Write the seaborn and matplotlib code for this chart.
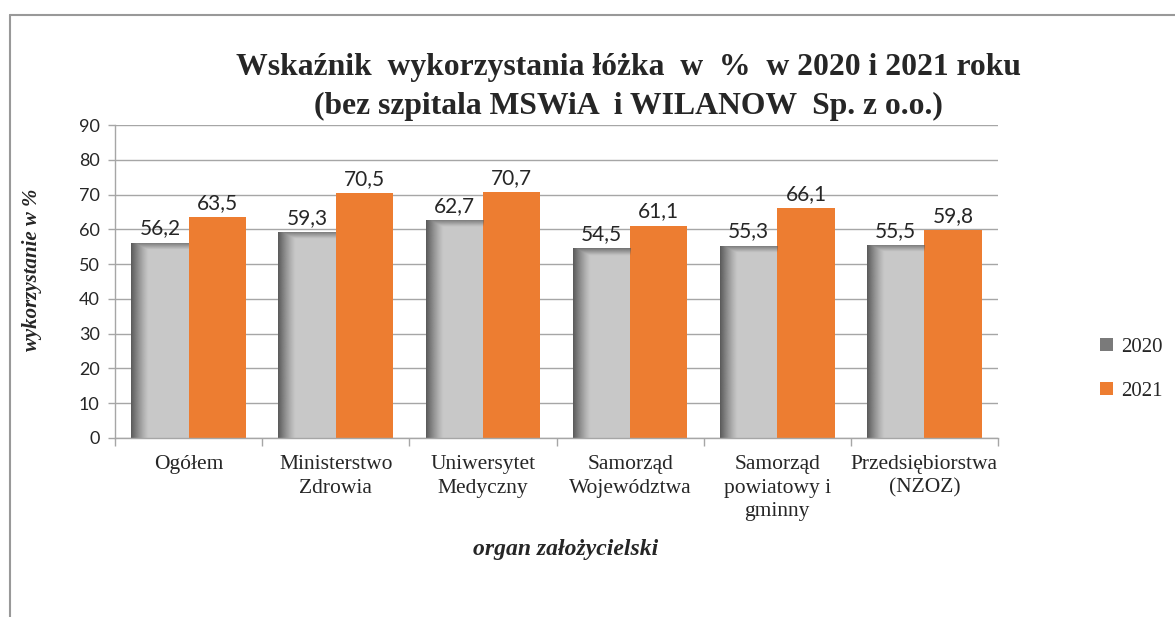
import numpy as np
import pandas as pd
import matplotlib
matplotlib.use("Agg")
import matplotlib.pyplot as plt
from matplotlib.lines import Line2D
from matplotlib.patches import Patch
import seaborn as sns

categories = ["Ogółem", "Ministerstwo\nZdrowia", "Uniwersytet\nMedyczny",
              "Samorząd\nWojewództwa", "Samorząd\npowiatowy i\ngminny",
              "Przedsiębiorstwa\n(NZOZ)"]
years = ["2020", "2021"]
v2020 = [56.2, 59.3, 62.7, 54.5, 55.3, 55.5]
v2021 = [63.5, 70.5, 70.7, 61.1, 66.1, 59.8]
yticks = [0, 10, 20, 30, 40, 50, 60, 70, 80, 90]

df = pd.DataFrame({
    "cat": categories * 2,
    "year": [years[0]] * len(categories) + [years[1]] * len(categories),
    "val": v2020 + v2021,
})

sns.set_style("white")
plt.rcParams["font.family"] = ["Liberation Serif", "DejaVu Sans"]

W, H = 1175, 617
fig = plt.figure(figsize=(W / 100, H / 100), dpi=100)
ax = fig.add_axes([115 / W, 1 - 438 / H, (998 - 115) / W, (438 - 125) / H])

light = "#C8C8C8"
orange = "#ED7D31"
sns.barplot(data=df, x="cat", y="val", hue="year", hue_order=years,
            palette={"2020": light, "2021": orange}, width=0.78,
            saturation=1, legend=False, ax=ax, zorder=2,
            edgecolor="none", linewidth=0)

ax.set_ylim(0, 90)
ax.set_xlim(-0.5, len(categories) - 0.5)
ax.set_yticks(yticks)
ax.yaxis.grid(True, color="#A6A6A6", linewidth=1.0, zorder=0)
ax.set_axisbelow(True)

# gradient shading on 2020 bars
px_per_unit = (438 - 125) / 90
for p in ax.containers[0]:
    x0, w, h = p.get_x(), p.get_width(), p.get_height()
    nx, ny = 120, 200
    xs = np.linspace(0, 1, nx)
    ys = np.linspace(h, 0, ny)  # top to bottom
    ax_ = np.clip(1 - xs / 0.30, 0, 1) ** 1.2
    depth_px = (h - ys) * px_per_unit
    ay_ = np.clip(1 - depth_px / 7.0, 0, 1) * 0.75
    alpha = np.maximum(ax_[None, :], ay_[:, None])
    img = np.zeros((ny, nx, 4))
    img[..., :3] = np.array([0x5A, 0x5A, 0x5A]) / 255
    img[..., 3] = alpha
    im = ax.imshow(img, extent=[x0, x0 + w, 0, h], aspect="auto",
                   zorder=2.5, interpolation="bilinear")
    im.set_clip_path(p)

ax.set_ylim(0, 90)
ax.set_xlim(-0.5, len(categories) - 0.5)

# value labels
for cont, vals in zip(ax.containers, [v2020, v2021]):
    labels = [f"{v:.1f}".replace(".", ",") for v in vals]
    ax.bar_label(cont, labels=labels, padding=3, fontsize=15,
                 family=["Lato", "DejaVu Sans"], color="#262626")

# spines and ticks
for s in ["top", "right"]:
    ax.spines[s].set_visible(False)
for s in ["left", "bottom"]:
    ax.spines[s].set_color("#A6A6A6")
    ax.spines[s].set_linewidth(1.0)

ax.tick_params(axis="y", which="major", left=True, length=5, width=1,
               color="#A6A6A6", labelsize=13, pad=6, labelcolor="#262626")
for lab in ax.get_yticklabels():
    lab.set_family(["Lato", "DejaVu Sans"])
ax.tick_params(axis="x", which="major", bottom=False, labelsize=15.5,
               pad=9, labelcolor="#262626")
ax.set_xticks(np.arange(-0.5, len(categories), 1.0), minor=True)
ax.tick_params(axis="x", which="minor", bottom=True, length=6, width=1,
               color="#A6A6A6")
for lab in ax.get_xticklabels():
    lab.set_linespacing(1.3)
    lab.set_verticalalignment("top")

ax.set_xlabel("")
ax.set_ylabel("")
fig.text(32 / W, 1 - 270 / H, "wykorzystanie w %", rotation=90,
         ha="center", va="center", fontsize=15, fontweight="bold",
         fontstyle="italic")
fig.text(566 / W, 1 - 550 / H, "organ założycielski", ha="center",
         va="center", fontsize=17, fontweight="bold", fontstyle="italic")

fig.text(628 / W, 1 - 68 / H, "Wskaźnik  wykorzystania łóżka  w  %  w 2020 i 2021 roku",
         ha="center", va="center", fontsize=22.8, fontweight="bold")
fig.text(628 / W, 1 - 106 / H, "(bez szpitala MSWiA  i WILANOW  Sp. z o.o.)",
         ha="center", va="center", fontsize=22.8, fontweight="bold")

# legend
handles = [Patch(facecolor="#7A7A7A", edgecolor="none"),
           Patch(facecolor=orange, edgecolor="none")]
fig.legend(handles, years, loc="center left",
           bbox_to_anchor=(1092 / W, 1 - 369 / H), frameon=False,
           fontsize=15, handlelength=0.6, handleheight=0.6,
           handletextpad=0.4, labelspacing=1.2, borderaxespad=0)

# outer chart border (left and top visible)
fig.add_artist(Line2D([10 / W, 10 / W], [0, 1 - 15 / H],
                      transform=fig.transFigure, color="#999999", lw=1.5))
fig.add_artist(Line2D([10 / W, 1], [1 - 15 / H, 1 - 15 / H],
                      transform=fig.transFigure, color="#999999", lw=1.5))

fig.savefig("out.png", dpi=100, facecolor="white")
